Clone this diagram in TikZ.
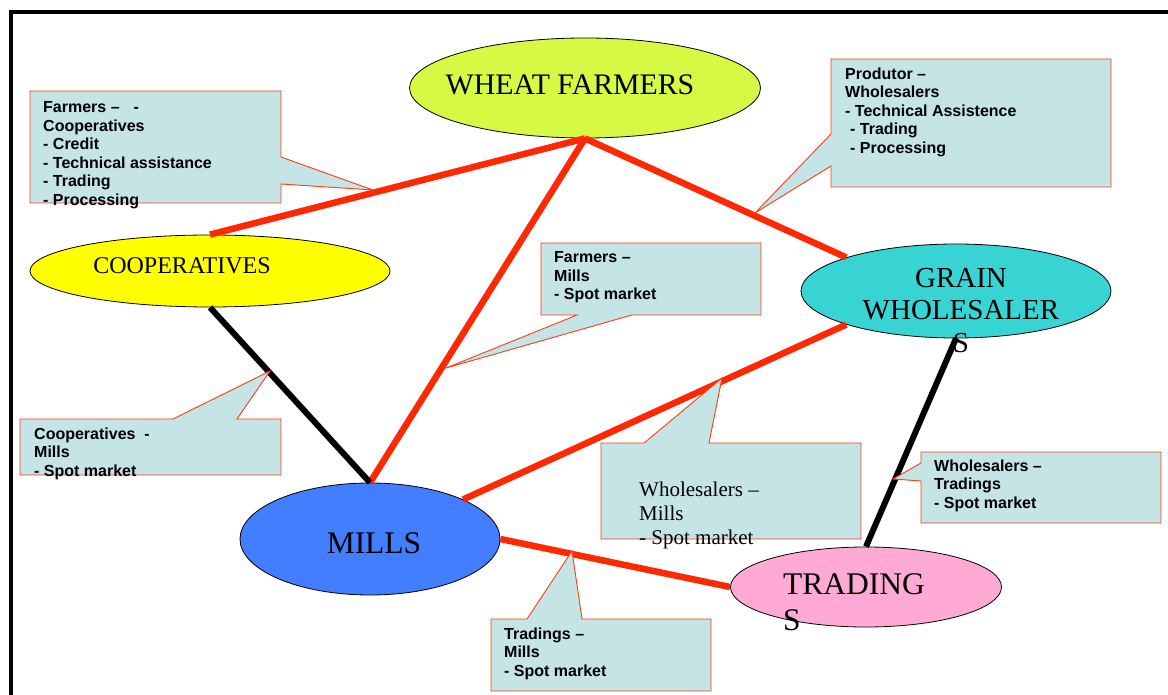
\documentclass[tikz,border=0pt]{standalone}
\usepackage{fontspec}
\setmainfont{Liberation Serif}
\setsansfont{Liberation Sans}
\usetikzlibrary{shapes.geometric}
\definecolor{wheatcol}{RGB}{214,249,67}
\definecolor{coopcol}{RGB}{255,255,0}
\definecolor{graincol}{RGB}{56,212,212}
\definecolor{millcol}{RGB}{66,126,255}
\definecolor{tradecol}{RGB}{255,170,212}
\definecolor{notefill}{RGB}{196,228,230}
\definecolor{noteline}{RGB}{255,60,20}
\definecolor{linkred}{RGB}{255,40,0}
\begin{document}
\begin{tikzpicture}[x=1pt,y=-1pt,
  ell/.style={draw,ellipse,inner sep=0pt,line width=0.8pt},
  bigtext/.style={inner sep=0pt,font=\fontsize{29}{32.5}\selectfont},
  callout/.style={draw=noteline,fill=notefill,line width=0.9pt},
  note/.style={inner sep=0pt,anchor=north west,align=left,font=\sffamily\bfseries\fontsize{16}{18.5}\selectfont},
  redlink/.style={draw=linkred,line width=6.5pt},
  blacklink/.style={draw=black,line width=6pt}]
\useasboundingbox (0,0) rectangle (1168,695);
\draw[line width=4.5pt] (11,695) -- (11,12) -- (1168,12);
\node[ell,fill=wheatcol,minimum width=351pt,minimum height=100pt] (farmers) at (585,88) {};
\node[ell,fill=coopcol,minimum width=360pt,minimum height=72pt] (coop) at (210,271) {};
\node[ell,fill=graincol,minimum width=310pt,minimum height=94pt] (grain) at (956,291) {};
\node[ell,fill=millcol,minimum width=260pt,minimum height=112pt] (mills) at (370,539) {};
\node[ell,fill=tradecol,minimum width=271pt,minimum height=80pt] (trade) at (866,587) {};
\draw[redlink] (farmers.south) -- (coop.north);
\draw[redlink] (farmers.south) -- (mills.north);
\draw[redlink] (farmers.south) -- (grain.163);
\draw[blacklink] (coop.south) -- (mills.north);
\draw[redlink] (grain.197) -- (mills.23);
\draw[blacklink] (grain.south) -- (trade.north);
\draw[redlink] (mills.east) -- (trade.west);
\node[bigtext,anchor=base,font=\fontsize{29.8}{33}\selectfont] (farmerstext) at (570,95) {WHEAT FARMERS};
\node[bigtext,anchor=base,font=\fontsize{24}{28}\selectfont] (cooptext) at (182,274) {COOPERATIVES};
\node[bigtext,anchor=north,align=center] (graintext) at (961,268) {GRAIN\\WHOLESALER\\S};
\node[bigtext,anchor=base,font=\fontsize{31.5}{36}\selectfont] (millstext) at (374,553) {MILLS};
\node[bigtext,anchor=north west,align=left,font=\fontsize{31.5}{36}\selectfont] (tradetext) at (783,573) {TRADING\\S};
\draw[callout] (30,91) -- (281,91) -- (281,157) -- (373,190) -- (281,184) -- (281,203) -- (30,203) -- cycle;
\draw[callout] (831,59) -- (1111,59) -- (1111,187) -- (831,187) -- (831,166) -- (755,213) -- (831,134) -- cycle;
\draw[callout] (541,243) -- (761,243) -- (761,315) -- (632,315) -- (446,368) -- (577,315) -- (541,315) -- cycle;
\draw[callout] (20,419) -- (173,419) -- (270,371) -- (237,419) -- (281,419) -- (281,475) -- (20,475) -- cycle;
\draw[callout] (601,443) -- (644,443) -- (722,378) -- (709,443) -- (861,443) -- (861,539) -- (601,539) -- cycle;
\draw[callout] (921,452) -- (1161,452) -- (1161,523) -- (921,523) -- (921,481) -- (893,479) -- (921,463) -- cycle;
\draw[callout] (491,619) -- (527,619) -- (572,551) -- (582,619) -- (711,619) -- (711,691) -- (491,691) -- cycle;
\node[note] (notefc) at (43,101.5) {Farmers --\hspace{14pt}-\\Cooperatives\\- Credit\\- Technical assistance\\- Trading\\- Processing};
\node[note] (notefw) at (845,67.5) {Produtor --\\Wholesalers\\- Technical Assistence\\\hspace*{5pt}- Trading\\\hspace*{5pt}- Processing};
\node[note] (notefm) at (554,251.5) {Farmers --\\Mills\\- Spot market};
\node[note] (notecm) at (34,427.5) {Cooperatives~~-\\Mills\\- Spot market};
\node[note,font=\fontsize{21}{24}\selectfont] (notewm) at (639,481.5) {Wholesalers --\\Mills\\- Spot market};
\node[note] (notewt) at (934,459.5) {Wholesalers --\\Tradings\\- Spot market};
\node[note] (notetm) at (504,627.5) {Tradings --\\Mills\\- Spot market};
\end{tikzpicture}
\end{document}
